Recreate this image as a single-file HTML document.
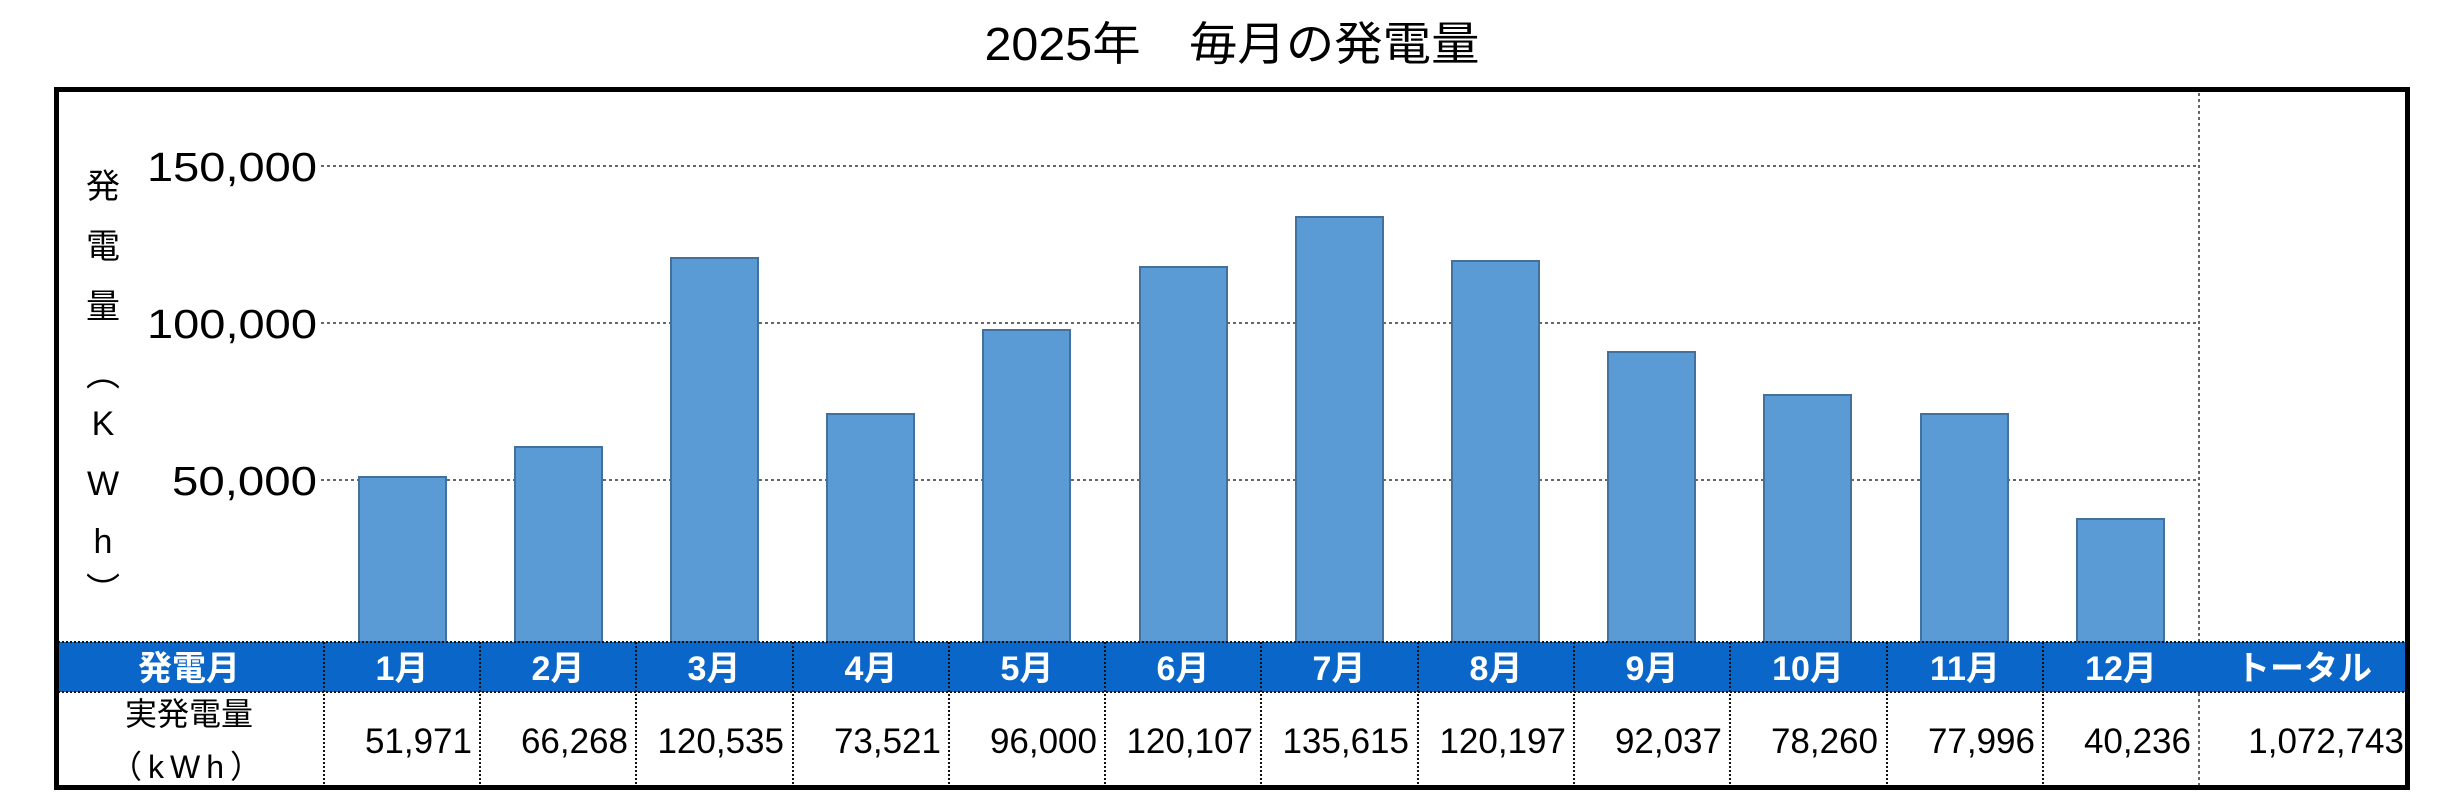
<!DOCTYPE html>
<html><head><meta charset="utf-8"><style>
html,body{margin:0;padding:0;background:#fff;}
svg{display:block;}
text{font-family:"Liberation Sans","Noto Sans CJK JP",sans-serif;}
</style></head><body>
<svg width="2450" height="800" viewBox="0 0 2450 800" xmlns="http://www.w3.org/2000/svg">
<rect width="2450" height="800" fill="#fff"/>
<text x="1232" y="60" font-size="46" text-anchor="middle" textLength="495" lengthAdjust="spacingAndGlyphs">2025年　毎月の発電量</text>
<g stroke="#333" stroke-width="1.5" stroke-dasharray="3,3">
<line x1="321" y1="166" x2="2199" y2="166"/>
<line x1="321" y1="323" x2="2199" y2="323"/>
<line x1="321" y1="480" x2="2199" y2="480"/>
<line x1="2199" y1="87" x2="2199" y2="790"/>
</g>
<g font-size="41" text-anchor="end">
<text x="317" y="181" textLength="170" lengthAdjust="spacingAndGlyphs">150,000</text>
<text x="317" y="338" textLength="170" lengthAdjust="spacingAndGlyphs">100,000</text>
<text x="317" y="495" textLength="145" lengthAdjust="spacingAndGlyphs">50,000</text>
</g>
<g font-size="34" text-anchor="middle">
<text x="103" y="198">発</text>
<text x="103" y="258">電</text>
<text x="103" y="318">量</text>
<text x="103" y="386">︵</text>
<text x="103" y="435">K</text>
<text x="103" y="495">W</text>
<text x="103" y="553">h</text>
<text x="103" y="602">︶</text>
</g>
<g fill="#5b9bd5" stroke="#41719c" stroke-width="2">
<rect x="359" y="477" width="87" height="165"/>
<rect x="515" y="447" width="87" height="195"/>
<rect x="671" y="258" width="87" height="384"/>
<rect x="827" y="414" width="87" height="228"/>
<rect x="983" y="330" width="87" height="312"/>
<rect x="1140" y="267" width="87" height="375"/>
<rect x="1296" y="217" width="87" height="425"/>
<rect x="1452" y="261" width="87" height="381"/>
<rect x="1608" y="352" width="87" height="290"/>
<rect x="1764" y="395" width="87" height="247"/>
<rect x="1921" y="414" width="87" height="228"/>
<rect x="2077" y="519" width="87" height="123"/>
</g>
<rect x="54" y="642" width="2355" height="50" fill="#0a66c8"/>
<g stroke="#111" stroke-width="2" stroke-dasharray="2,2">
<line x1="54" y1="642" x2="2409" y2="642"/>
<line x1="54" y1="692" x2="2409" y2="692"/>
<line x1="324" y1="642" x2="324" y2="790"/>
<line x1="480" y1="642" x2="480" y2="790"/>
<line x1="636" y1="642" x2="636" y2="790"/>
<line x1="793" y1="642" x2="793" y2="790"/>
<line x1="949" y1="642" x2="949" y2="790"/>
<line x1="1105" y1="642" x2="1105" y2="790"/>
<line x1="1261" y1="642" x2="1261" y2="790"/>
<line x1="1418" y1="642" x2="1418" y2="790"/>
<line x1="1574" y1="642" x2="1574" y2="790"/>
<line x1="1730" y1="642" x2="1730" y2="790"/>
<line x1="1887" y1="642" x2="1887" y2="790"/>
<line x1="2043" y1="642" x2="2043" y2="790"/>
</g>
<g font-size="34" font-weight="bold" fill="#fff" text-anchor="middle">
<text x="189" y="680">発電月</text>
<text x="402" y="680">1月</text>
<text x="558" y="680">2月</text>
<text x="714" y="680">3月</text>
<text x="871" y="680">4月</text>
<text x="1027" y="680">5月</text>
<text x="1183" y="680">6月</text>
<text x="1339" y="680">7月</text>
<text x="1496" y="680">8月</text>
<text x="1652" y="680">9月</text>
<text x="1808" y="680">10月</text>
<text x="1965" y="680">11月</text>
<text x="2121" y="680">12月</text>
<text x="2304" y="680">トータル</text>
</g>
<g font-size="32" text-anchor="middle">
<text x="189" y="725">実発電量</text>
<text x="189" y="778" letter-spacing="6">（kWh）</text>
</g>
<g font-size="35" text-anchor="end">
<text x="472" y="753">51,971</text>
<text x="628" y="753">66,268</text>
<text x="784" y="753">120,535</text>
<text x="941" y="753">73,521</text>
<text x="1097" y="753">96,000</text>
<text x="1253" y="753">120,107</text>
<text x="1409" y="753">135,615</text>
<text x="1566" y="753">120,197</text>
<text x="1722" y="753">92,037</text>
<text x="1878" y="753">78,260</text>
<text x="2035" y="753">77,996</text>
<text x="2191" y="753">40,236</text>
<text x="2404" y="753">1,072,743</text>
</g>
<rect x="56.5" y="89.5" width="2351" height="698" fill="none" stroke="#000" stroke-width="5"/>
</svg>
</body></html>
